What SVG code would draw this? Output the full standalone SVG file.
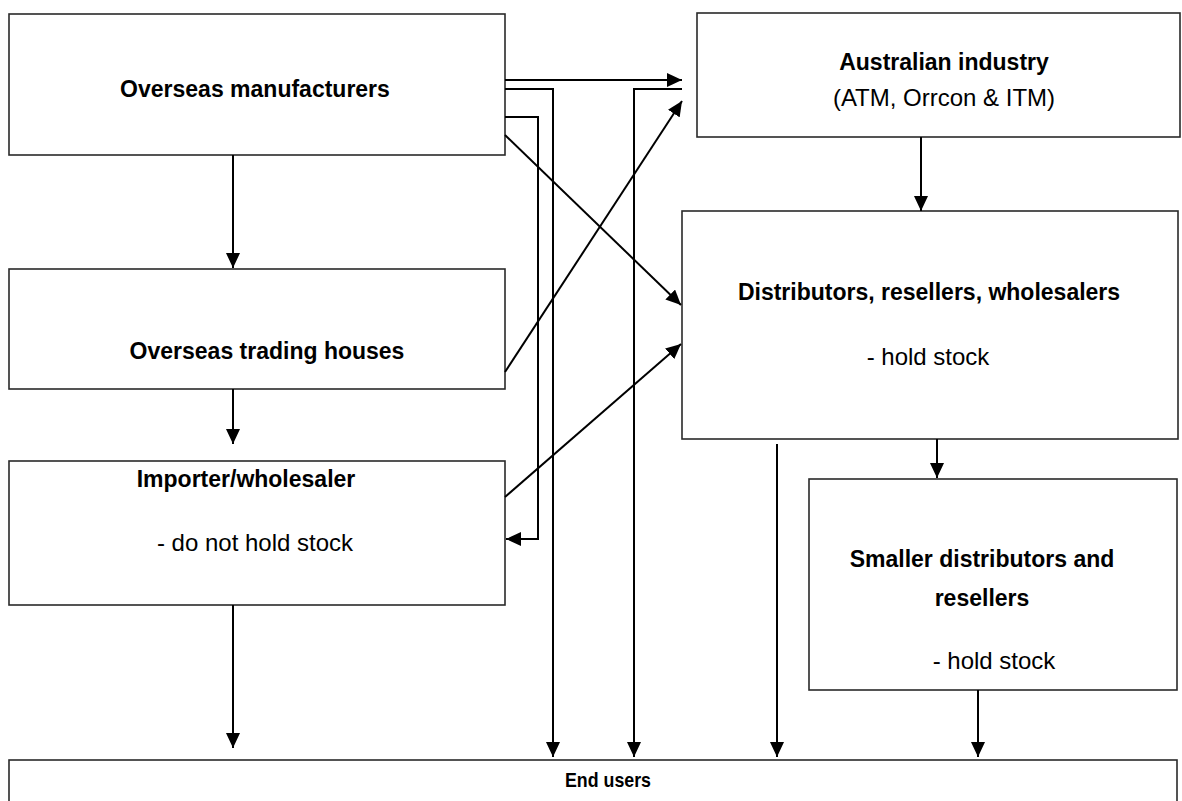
<svg xmlns="http://www.w3.org/2000/svg" width="1182" height="801" viewBox="0 0 1182 801">
<style>
.box{fill:#fff;stroke:#2a2a2a;stroke-width:1.6}
.b{font-family:"Liberation Sans",Arial,sans-serif;font-weight:bold;font-size:23px;fill:#000;text-anchor:middle}
.r{font-family:"Liberation Sans",Arial,sans-serif;font-size:24px;fill:#000;text-anchor:middle}
.c{fill:none;stroke:#000;stroke-width:2}
</style>
<defs>
<marker id="ah" markerUnits="userSpaceOnUse" markerWidth="15" markerHeight="14" refX="15" refY="7" orient="auto">
<path d="M0,0 L15,7 L0,14 Z" fill="#000"/>
</marker>
</defs>
<rect width="1182" height="801" fill="#fff"/>
<g id="overseas-manufacturers">
<rect class="box" x="9" y="14" width="496" height="141"/>
<text class="b" x="255" y="97">Overseas manufacturers</text>
</g>
<g id="overseas-trading-houses">
<rect class="box" x="9" y="269" width="496" height="120"/>
<text class="b" x="267" y="359">Overseas trading houses</text>
</g>
<g id="importer-wholesaler">
<rect class="box" x="9" y="461" width="496" height="144"/>
<text class="b" x="246" y="487">Importer/wholesaler</text>
<text class="r" x="255" y="551">- do not hold stock</text>
</g>
<g id="australian-industry">
<rect class="box" x="697" y="13" width="483" height="124"/>
<text class="b" x="944" y="70">Australian industry</text>
<text class="r" x="944" y="106">(ATM, Orrcon &amp; ITM)</text>
</g>
<g id="distributors">
<rect class="box" x="682" y="211" width="496" height="228"/>
<text class="b" x="929" y="300">Distributors, resellers, wholesalers</text>
<text class="r" x="928" y="365">- hold stock</text>
</g>
<g id="smaller-distributors">
<rect class="box" x="809" y="479" width="368" height="211"/>
<text class="b" x="982" y="567">Smaller distributors and</text>
<text class="b" x="982" y="606">resellers</text>
<text class="r" x="994" y="669">- hold stock</text>
</g>
<g id="end-users">
<rect class="box" x="9" y="760" width="1168" height="60"/>
<text class="b" x="608" y="787" style="font-size:21px" textLength="86" lengthAdjust="spacingAndGlyphs">End users</text>
</g>
<g id="connectors">
<path class="c" d="M233,155 V268" marker-end="url(#ah)"/>
<path class="c" d="M233,389 V444" marker-end="url(#ah)"/>
<path class="c" d="M233,605 V748" marker-end="url(#ah)"/>
<path class="c" d="M505,80 H682" marker-end="url(#ah)"/>
<path class="c" d="M505,89 H553 V757" marker-end="url(#ah)"/>
<path class="c" d="M505,117 H538 V539 H506" marker-end="url(#ah)"/>
<path class="c" d="M682,89 H634 V757" marker-end="url(#ah)"/>
<path class="c" d="M921,137 V211" marker-end="url(#ah)"/>
<path class="c" d="M937,439 V478" marker-end="url(#ah)"/>
<path class="c" d="M777,444 V757" marker-end="url(#ah)"/>
<path class="c" d="M978,690 V757" marker-end="url(#ah)"/>
<path class="c" d="M505,135 L681,305" marker-end="url(#ah)"/>
<path class="c" d="M505,372 L682,101" marker-end="url(#ah)"/>
<path class="c" d="M505,497 L681,344" marker-end="url(#ah)"/>
</g>
</svg>
